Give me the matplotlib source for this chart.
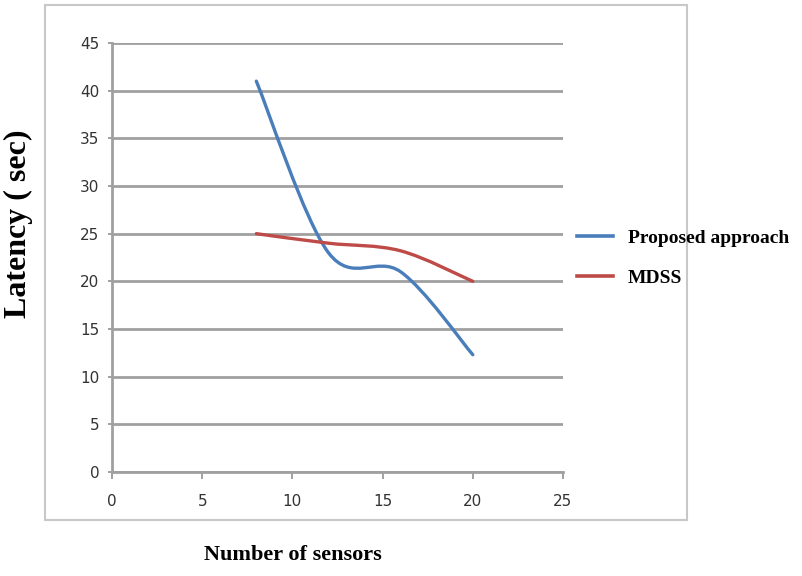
import matplotlib.pyplot as plt
from matplotlib.path import Path
from matplotlib.patches import PathPatch, Rectangle
from matplotlib.lines import Line2D

sensors = [8, 12, 16, 20]
proposed = [41, 23, 21, 12.3]
mdss = [25, 24, 23.2, 20]

x_ticks = [0, 5, 10, 15, 20, 25]
y_ticks = [0, 5, 10, 15, 20, 25, 30, 35, 40, 45]

blue = '#4a7ebb'
red = '#be4b48'
grid_col = '#a0a0a0'


def smooth_path(xs, ys):
    # excel-like smoothed line: cubic bezier through the points
    pts = list(zip(xs, ys))
    verts = [pts[0]]
    codes = [Path.MOVETO]
    n = len(pts)
    for i in range(n - 1):
        p0 = pts[i - 1] if i > 0 else pts[i]
        p1 = pts[i]
        p2 = pts[i + 1]
        p3 = pts[i + 2] if i + 2 < n else pts[i + 1]
        c1 = (p1[0] + (p2[0] - p0[0]) / 6, p1[1] + (p2[1] - p0[1]) / 6)
        c2 = (p2[0] - (p3[0] - p1[0]) / 6, p2[1] - (p3[1] - p1[1]) / 6)
        verts += [c1, c2, p2]
        codes += [Path.CURVE4] * 3
    return Path(verts, codes)


fig = plt.figure(figsize=(8.02, 5.76), dpi=100)
ax = fig.add_axes([112 / 802, 1 - 472 / 576, (563 - 112) / 802, (472 - 43) / 576])

for ys, col in [(proposed, blue), (mdss, red)]:
    ax.add_patch(PathPatch(smooth_path(sensors, ys), facecolor='none', edgecolor=col,
                           lw=2.4, capstyle='round', zorder=3))

ax.set_xlim(0, 25)
ax.set_ylim(0, 45)
ax.set_xticks(x_ticks)
ax.set_yticks(y_ticks)
ax.grid(axis='y', color=grid_col, lw=2)
ax.set_axisbelow(True)
for s in ['top', 'right']:
    ax.spines[s].set_visible(False)
for s in ['left', 'bottom']:
    ax.spines[s].set_color(grid_col)
    ax.spines[s].set_linewidth(2)
ax.tick_params(axis='x', length=5, width=1.4, color=grid_col, pad=11,
               labelsize=11, labelcolor='#333333')
ax.tick_params(axis='y', length=3, width=1.4, color=grid_col, pad=6,
               labelsize=11, labelcolor='#333333')

# outer chart border
fig.patches.append(Rectangle((45 / 802, 1 - 520 / 576), (687 - 45) / 802, (520 - 5) / 576,
                             transform=fig.transFigure, fill=False,
                             edgecolor='#c8c8c8', lw=1.5))

handles = [Line2D([], [], color=blue, lw=2.6), Line2D([], [], color=red, lw=2.6)]
fig.legend(handles, ['Proposed approach', 'MDSS'], loc='upper left',
           bbox_to_anchor=(577 / 802, 1 - 229 / 576), bbox_transform=fig.transFigure,
           frameon=False, borderpad=0, borderaxespad=0, handlelength=1.85,
           handletextpad=0.75, labelspacing=1.15,
           prop={'family': 'Liberation Serif', 'weight': 'bold', 'size': 14})

fig.text(18 / 802, 1 - 224 / 576, 'Latency ( sec)', rotation=90, ha='center', va='center',
         family='Liberation Serif', weight='bold', size=23)
fig.text(293 / 802, 1 - 555 / 576, 'Number of sensors', ha='center', va='center',
         family='Liberation Serif', weight='bold', size=16)

fig.savefig('out.png', dpi=100)
